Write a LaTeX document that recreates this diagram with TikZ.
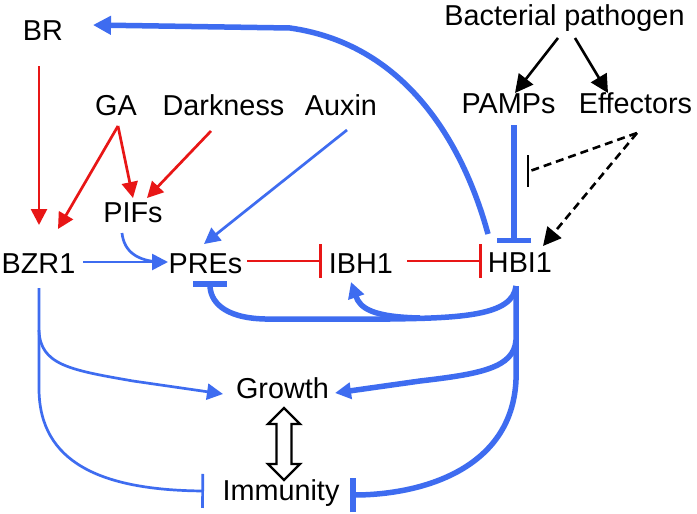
\documentclass[tikz,border=0pt]{standalone}
\usepackage{fontspec}
\setmainfont{Liberation Sans}
\usetikzlibrary{arrows.meta}
\definecolor{pblue}{RGB}{62,108,240}
\definecolor{pred}{RGB}{232,22,22}
\begin{document}
\begin{tikzpicture}[x=1pt,y=-1pt,
  lbl/.style={anchor=base,inner sep=0pt,font=\fontsize{28.8}{30}\selectfont},
  thinb/.style={draw=pblue,line width=2.7pt},
  thickb/.style={draw=pblue,line width=5.5pt},
  redl/.style={draw=pred,line width=2.7pt},
  blk/.style={draw=black,line width=2.6pt},
  tri/.style={-{Triangle[length=16pt,width=16pt]}},
  bigtri/.style={-{Triangle[length=18pt,width=18pt]}},
  tbar/.style={-{Bar[width=34pt]}},
  dsh/.style={dash pattern=on 8pt off 5pt}
]
\useasboundingbox (0,0) rectangle (697,514);
\fill[white] (0,0) rectangle (697,514);

% nodes
\node[lbl] (BR) at (43,40) {BR};
\node[lbl] (GA) at (116,115) {GA};
\node[lbl] (Dark) at (223.5,115) {Darkness};
\node[lbl] (Aux) at (341,115) {Auxin};
\node[lbl] (PIFs) at (133,222) {PIFs};
\node[lbl] (BZR1) at (38.5,273) {BZR1};
\node[lbl] (PREs) at (205.5,273) {PREs};
\node[lbl] (IBH1) at (361,273) {IBH1};
\node[lbl] (HBI1) at (520,272.5) {HBI1};
\node[lbl] (Bact) at (564.5,25) {Bacterial pathogen};
\node[lbl] (PAMPs) at (508.5,113) {PAMPs};
\node[lbl] (Eff) at (635.5,113) {Effectors};
\node[lbl] (Growth) at (282.5,398) {Growth};
\node[lbl] (Imm) at (281,500) {Immunity};

% connector end points
\coordinate (brS) at (39,66);
\coordinate (bzrN) at (39,225);
\coordinate (gaS) at (118,126);
\coordinate (bzrNE) at (58,229);
\coordinate (pifN) at (133,198);
\coordinate (pifNE) at (147,198);
\coordinate (darkS) at (211,131);
\coordinate (auxS) at (347,130);
\coordinate (preN) at (204,244);
\coordinate (bzrE) at (83,262);
\coordinate (preW) at (168,262);
\coordinate (pifS) at (122,233);
\coordinate (preE) at (247,261);
\coordinate (ibhW) at (322,261);
\coordinate (ibhE) at (407,261);
\coordinate (hbiW) at (482,261);
\coordinate (hbiNW) at (488,234);
\coordinate (brE) at (93,25);
\coordinate (pampS) at (514,125);
\coordinate (hbiN) at (514,243);
\coordinate (bactSW) at (558,38);
\coordinate (bactSE) at (575,38);
\coordinate (pampN) at (515,93);
\coordinate (effN) at (608,93);
\coordinate (effS) at (637,133);
\coordinate (hbiNE) at (543,246);
\coordinate (inh) at (530,171);
\coordinate (hbiS) at (516,286);
\coordinate (preS) at (210,281);
\coordinate (ibhS) at (351,282);
\coordinate (grE) at (335,393);
\coordinate (imE) at (350,495);
\coordinate (bzrS) at (39,288);
\coordinate (grW) at (223,394);
\coordinate (imW) at (204,491);

% red arrows
\draw[redl,tri] (brS) -- (bzrN);
\draw[redl,tri] (gaS) -- (bzrNE);
\draw[redl,tri] (gaS) -- (pifN);
\draw[redl,tri] (darkS) -- (pifNE);
\draw[redl,tbar] (preE) -- (ibhW);
\draw[redl,tbar] (ibhE) -- (hbiW);

% thin blue
\draw[thinb,tri] (auxS) -- (preN);
\draw[thinb,tri] (bzrE) -- (preW);
\draw[thinb] (pifS) .. controls (124,252) and (138,261) .. (160,262);
\draw[thinb,tri] (bzrS) -- (39,330) .. controls (40,365) and (70,370) .. (133,381) -- (grW);
\draw[thinb,tbar] (39,330) -- (39,390) .. controls (40,462) and (100,490) .. (imW);

% thick blue
\draw[thickb,bigtri] (hbiNW) .. controls (465,150) and (410,45) .. (290,28) -- (brE);
\draw[thickb,tbar] (pampS) -- (hbiN);
\draw[thickb,tbar] (hbiS) .. controls (513,316) and (460,318) .. (390,319)
   -- (265,319) .. controls (222,318) and (210,300) .. (preS);
\draw[thickb,tri] (420,318) .. controls (372,317) and (360,308) .. (ibhS);
\draw[thickb,tri] (hbiS) -- (516,340) .. controls (514,368) and (480,374) .. (420,381) -- (grE);
\draw[thickb,tbar] (516,340) -- (516,380) .. controls (512,470) and (420,495) .. (imE);

% black
\draw[blk,bigtri] (bactSW) -- (pampN);
\draw[blk,bigtri] (bactSE) -- (effN);
\draw[blk,dsh,bigtri] (effS) -- (hbiNE);
\draw[blk,dsh] (effS) -- (inh);
\draw[blk] (528,155) -- (528,187);

% double arrow Growth <-> Immunity
\draw[black,line width=2.3pt,fill=white,line join=miter]
  (284,408) -- (300,424) -- (291.5,424) -- (291.5,464) -- (300,464) -- (284,480)
  -- (268,464) -- (276.5,464) -- (276.5,424) -- (268,424) -- cycle;
\end{tikzpicture}
\end{document}
